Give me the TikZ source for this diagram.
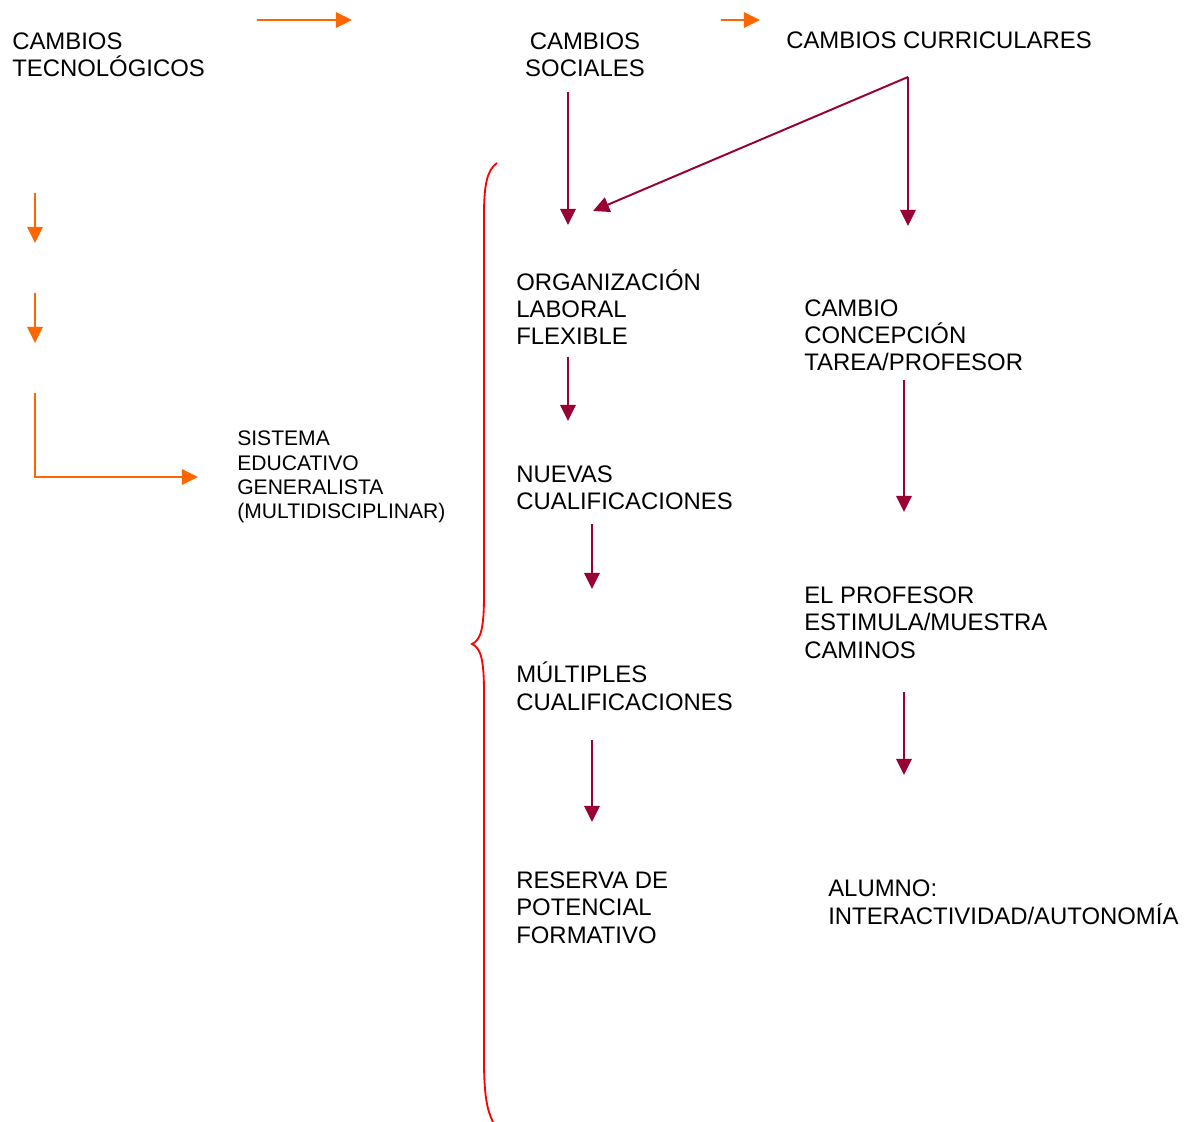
\documentclass[tikz,border=0pt]{standalone}
\usepackage{fontspec}
\setmainfont{Liberation Sans}
\usetikzlibrary{arrows.meta,positioning}
\definecolor{flowOrange}{RGB}{255,102,0}
\definecolor{flowCrimson}{RGB}{153,0,51}
\definecolor{braceRed}{RGB}{255,0,0}
\tikzset{
    concept/.style={inner sep=0pt, anchor=base west, align=left, font=\fontsize{17}{19.3}\selectfont},
    conceptS/.style={concept, font=\fontsize{15}{17.4}\selectfont},
    legO/.style={line width=1.4pt, flowOrange, -{Triangle[length=11.5pt,width=11pt]}},
    legC/.style={line width=1.4pt, flowCrimson, -{Triangle[length=11.5pt,width=11pt]}},
    brace/.style={line width=1.3pt, braceRed},
}
\begin{document}
\begin{tikzpicture}[x=0.025cm, y=-0.025cm]
    \useasboundingbox (0,0) rectangle (1192,1122);
    % top row (nodes placed at the baseline of their last line)
    \node[concept] (tec) at (12,77) {CAMBIOS\\TECNOLÓGICOS};
    \node[concept, anchor=base, align=center] (soc) at (585,77) {CAMBIOS\\SOCIALES};
    \node[concept] (cur) at (786,49) {CAMBIOS CURRICULARES};
    % left column
    \node[conceptS] (sis) at (237,519) {SISTEMA\\EDUCATIVO\\GENERALISTA\\(MULTIDISCIPLINAR)};
    % middle column
    \node[concept] (org) at (516,345) {ORGANIZACIÓN\\LABORAL\\FLEXIBLE};
    \node[concept] (nue) at (516,510) {NUEVAS\\CUALIFICACIONES};
    \node[concept] (mul) at (516,710) {MÚLTIPLES\\CUALIFICACIONES};
    \node[concept] (res) at (516,943) {RESERVA DE\\POTENCIAL\\FORMATIVO};
    % right column
    \node[concept] (con) at (804,371) {CAMBIO\\CONCEPCIÓN\\TAREA/PROFESOR};
    \node[concept] (est) at (804,658) {EL PROFESOR\\ESTIMULA/MUESTRA\\CAMINOS};
    \node[concept] (alu) at (828,924) {ALUMNO:\\INTERACTIVIDAD/AUTONOMÍA};
    % arrow ends
    \coordinate (o1a) at (257,20);  \coordinate (o1b) at (352,20);
    \coordinate (o2a) at (721,20);  \coordinate (o2b) at (760,20);
    \coordinate (o3a) at (35,193);  \coordinate (o3b) at (35,243);
    \coordinate (o4a) at (35,293);  \coordinate (o4b) at (35,343);
    \coordinate (o5a) at (35,393);  \coordinate (o5b) at (198,477);
    \coordinate (c1a) at (568,92);  \coordinate (c1b) at (568,225);
    \coordinate (c2a) at (908,77);  \coordinate (c2b) at (593,211);
    \coordinate (c3b) at (908,226);
    \coordinate (c4a) at (568,357); \coordinate (c4b) at (568,421);
    \coordinate (c5a) at (592,524); \coordinate (c5b) at (592,589);
    \coordinate (c6a) at (592,740); \coordinate (c6b) at (592,822);
    \coordinate (c7a) at (904,380); \coordinate (c7b) at (904,512);
    \coordinate (c8a) at (904,692); \coordinate (c8b) at (904,775);
    % orange flow
    \draw[legO] (o1a) -- (o1b);
    \draw[legO] (o2a) -- (o2b);
    \draw[legO] (o3a) -- (o3b);
    \draw[legO] (o4a) -- (o4b);
    \draw[legO] (o5a) |- (o5b);
    % crimson flow
    \draw[legC] (c1a) -- (c1b);
    \draw[legC] (c2a) -- (c2b);
    \draw[legC] (c2a) -- (c3b);
    \draw[legC] (c4a) -- (c4b);
    \draw[legC] (c5a) -- (c5b);
    \draw[legC] (c6a) -- (c6b);
    \draw[legC] (c7a) -- (c7b);
    \draw[legC] (c8a) -- (c8b);
    % brace
    \draw[brace] (497,163) .. controls (487,170) and (484,185) .. (484,215)
        -- (484,595) .. controls (484,628) and (481,640) .. (472,644)
        .. controls (481,648) and (484,660) .. (484,693)
        -- (484,1060) .. controls (484,1095) and (487,1110) .. (493,1122);
\end{tikzpicture}
\end{document}
